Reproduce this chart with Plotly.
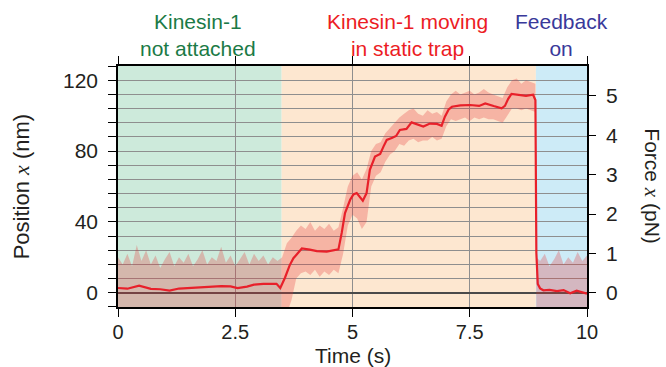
import plotly.graph_objects as go

# ---- data -------------------------------------------------------------
# trap stiffness used for the force axis (pN per nm)
stiffness = 0.045

# phases of the experiment (s)
phase_edges = [0.0, 3.49, 8.91, 10.0]
phase_colors = ["#cdeadb", "#fde7d0", "#cdebf7"]
phase_labels = ["Kinesin-1<br>not attached", "Kinesin-1 moving<br>in static trap", "Feedback<br>on"]
phase_label_t = [1.7, 6.18, 9.45]
phase_label_colors = ["#1b7a46", "#ec1c24", "#39399a"]

# filtered bead position (nm)
smooth_t = [0.0, 0.2, 0.45, 0.7, 0.9, 1.1, 1.3, 1.6, 1.8, 1.95, 2.2, 2.4, 2.55, 2.75, 2.9,
            3.1, 3.38, 3.46, 3.56, 3.66, 3.74, 3.81, 3.92, 4.09, 4.24, 4.45, 4.6, 4.70,
            4.77, 4.84, 4.95, 5.02, 5.09, 5.15, 5.22, 5.30, 5.37, 5.48, 5.59, 5.66, 5.73,
            5.85, 5.93, 6.01, 6.15, 6.26, 6.37, 6.51, 6.65, 6.80, 6.90, 6.97, 7.05, 7.12,
            7.3, 7.51, 7.7, 7.83, 8.01, 8.18, 8.25, 8.32, 8.39, 8.57, 8.7, 8.85, 8.90,
            8.92, 8.95, 9.0, 9.07, 9.2, 9.36, 9.5, 9.64, 9.78, 9.9, 10.0]
smooth_x = [2.7, 2.3, 4.0, 2.2, 2.0, 1.2, 2.4, 3.0, 3.4, 3.7, 3.8, 3.6, 2.6, 3.5, 4.6,
            5.0, 5.1, 2.7, 8.5, 15.5, 19.5, 21.6, 25.0, 24.4, 23.5, 23.2, 24.0, 24.5,
            33.8, 45.0, 52.5, 55.5, 56.3, 54.0, 52.0, 56.3, 69.4, 76.9, 78.4, 82.5, 86.3,
            87.5, 88.5, 91.9, 92.5, 96.2, 95.2, 93.8, 95.5, 95.3, 94.3, 99.4, 103.5, 105.0,
            105.8, 106.0, 105.5, 106.9, 105.4, 104.1, 105.5, 109.5, 112.3, 111.8, 111.2, 111.8, 108.8,
            22.6, 5.0, 2.5, 1.4, 1.6, 1.0, 1.5, -0.3, 1.2, 0.2, -0.5]

# envelope of the raw (unfiltered) position trace (nm)
raw_t = [0.0, 0.1, 0.2, 0.3, 0.4, 0.5, 0.6, 0.7, 0.8, 0.9, 1.0, 1.1, 1.2, 1.3, 1.4, 1.5,
         1.6, 1.7, 1.8, 1.9, 2.0, 2.1, 2.2, 2.3, 2.4, 2.5, 2.6, 2.7, 2.8, 2.9, 3.0, 3.1,
         3.2, 3.3, 3.4,
         3.5, 3.6, 3.7, 3.8, 3.9, 4.0, 4.1, 4.2, 4.3, 4.4, 4.5, 4.6, 4.7, 4.8, 4.9, 5.0,
         5.1, 5.2, 5.3, 5.4, 5.5, 5.6, 5.7, 5.8, 5.9, 6.0, 6.1, 6.2, 6.3, 6.4, 6.5, 6.6,
         6.7, 6.8, 6.9, 7.0, 7.1, 7.2, 7.3, 7.4, 7.5, 7.6, 7.7, 7.8, 7.9, 8.0, 8.1, 8.2,
         8.3, 8.4, 8.5, 8.6, 8.7, 8.8, 8.9,
         8.92, 9.0, 9.1, 9.2, 9.3, 9.4, 9.5, 9.6, 9.7, 9.8, 9.9, 10.0]
raw_upper = [20, 16, 22, 15, 27, 18, 24, 16, 21, 14, 19, 23, 15, 20, 17, 22,
             15, 19, 24, 16, 20, 18, 26, 17, 21, 15, 19, 23, 16, 22, 18, 21,
             16, 20, 18,
             20, 28, 31, 35, 38, 36, 40, 35, 38, 36, 39, 35, 37, 48, 60, 66,
             68, 64, 70, 80, 84, 85, 90, 93, 96, 99, 101, 103, 104, 101, 100, 103,
             101, 102, 100, 108, 112, 114, 112, 113, 114, 112, 113, 115, 113, 112, 111, 110,
             116, 120, 121, 118, 120, 119, 118,
             20, 18, 22, 15, 19, 24, 16, 20, 17, 23, 18, 21]
raw_lower = [-12] * 35 + \
            [-12, -12, -4, 8, 11, 12, 10, 13, 9, 12, 10, 13, 11, 22, 38, 44,
             42, 36, 40, 60, 66, 68, 74, 78, 80, 84, 83, 86, 87, 85, 86, 86,
             88, 86, 87, 94, 98, 97, 98, 99, 97, 99, 98, 99, 98, 98, 97, 96,
             100, 104, 104, 103, 104, 103, 102] + [-12] * 12

# axis ticks
time_ticks = [0, 2.5, 5, 7.5, 10]
time_labels = ["0", "2.5", "5", "7.5", "10"]
pos_ticks = [0, 40, 80, 120]
force_ticks = [0, 1, 2, 3, 4, 5]

# ---- figure -----------------------------------------------------------
FONT = "Liberation Sans, Arial, Helvetica, sans-serif"
TXT = "#231f20"
GRID = "#8e8e8e"

fig = go.Figure()

fig.add_trace(go.Scatter(x=raw_t, y=raw_lower, mode="lines", line=dict(width=0),
                         hoverinfo="skip", showlegend=False))
fig.add_trace(go.Scatter(x=raw_t, y=raw_upper, mode="lines", line=dict(width=0),
                         fill="tonexty", fillcolor="rgba(231,50,49,0.28)",
                         hoverinfo="skip", showlegend=False))
fig.add_trace(go.Scatter(x=smooth_t, y=smooth_x, mode="lines",
                         line=dict(color="#e8202a", width=2.2),
                         showlegend=False))
# carrier for the force axis
fig.add_trace(go.Scatter(x=[None], y=[None], yaxis="y2", showlegend=False, hoverinfo="skip"))

for i, col in enumerate(phase_colors):
    fig.add_shape(type="rect", xref="x", yref="paper",
                  x0=phase_edges[i], x1=phase_edges[i + 1], y0=0, y1=1,
                  fillcolor=col, line=dict(width=0), layer="below")

for lab, t, col in zip(phase_labels, phase_label_t, phase_label_colors):
    fig.add_annotation(text=lab, x=t, xref="x", y=1.13, yref="paper",
                       xanchor="center", yanchor="middle", showarrow=False,
                       font=dict(family=FONT, size=21, color=col))

italic_x = "<span style='font-family:Liberation Serif, Times New Roman, serif'><i>x</i></span>"
fig.add_annotation(text=f"Position {italic_x} (nm)", x=-0.205, xref="paper", y=0.5, yref="paper",
                   textangle=-90, showarrow=False, xanchor="center", yanchor="middle",
                   font=dict(family=FONT, size=22, color=TXT))
fig.add_annotation(text=f"Force {italic_x} (pN)", x=1.139, xref="paper", y=0.5, yref="paper",
                   textangle=90, showarrow=False, xanchor="center", yanchor="middle",
                   font=dict(family=FONT, size=21, color=TXT))
fig.add_annotation(text="Time (s)", x=0.5, xref="paper", y=-0.201, yref="paper",
                   showarrow=False, xanchor="center", yanchor="middle",
                   font=dict(family=FONT, size=21, color=TXT))

fig.update_layout(
    width=666, height=367,
    margin=dict(l=118, r=79, t=66, b=60),
    paper_bgcolor="white", plot_bgcolor="rgba(0,0,0,0)",
    showlegend=False,
    xaxis=dict(range=[0, 10], tickmode="array", tickvals=time_ticks, ticktext=time_labels,
               ticks="outside", ticklen=8, tickwidth=1.2, tickcolor="black",
               showline=True, linecolor="black", linewidth=1.5, mirror="ticks",
               showgrid=True, gridcolor=GRID, gridwidth=1.2, zeroline=False,
               ticklabelstandoff=-2,
               tickfont=dict(family=FONT, size=20, color=TXT)),
    yaxis=dict(range=[-8.02, 128.02], tickmode="array", tickvals=pos_ticks,
               ticks="outside", ticklen=8, tickwidth=1.2, tickcolor="black",
               showline=True, linecolor="black", linewidth=1.5,
               showgrid=True, gridcolor=GRID, gridwidth=1.2,
               zeroline=True, zerolinecolor="#4a4a4a", zerolinewidth=1.5,
               minor=dict(tick0=0, dtick=8, ticks="outside", ticklen=8, tickwidth=1.2,
                          tickcolor="black", showgrid=True, gridcolor=GRID, gridwidth=1.2),
               ticklabelstandoff=6,
               tickfont=dict(family=FONT, size=21, color=TXT)),
    yaxis2=dict(range=[-8.02 * stiffness, 128.02 * stiffness], overlaying="y", side="right",
                tickmode="array", tickvals=force_ticks,
                ticks="outside", ticklen=7, tickwidth=1.2, tickcolor="black",
                showline=True, linecolor="black", linewidth=1.5,
                showgrid=False, zeroline=False, ticklabelstandoff=6,
                tickfont=dict(family=FONT, size=21, color=TXT)),
)

fig.write_html("out.html")
